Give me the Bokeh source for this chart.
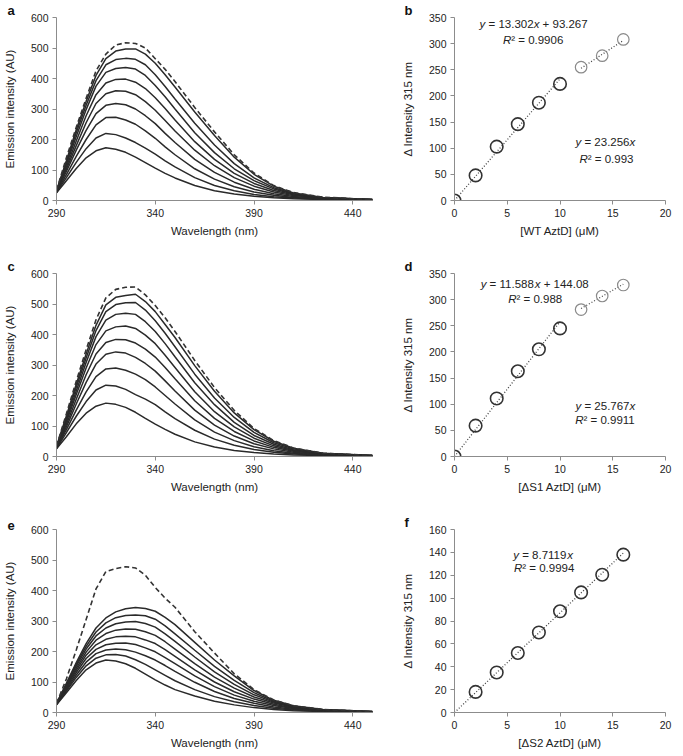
from bokeh.plotting import figure
from bokeh.models import Range1d, Label, FixedTicker
from bokeh.layouts import gridplot
from bokeh.embed import file_html
from bokeh.resources import INLINE

FONT = "Liberation Sans"

# emission spectra (wavelength in nm, intensity in AU)
wavelength = [290, 295, 300, 305, 310, 315, 320, 325, 330, 335, 340, 345, 350,
              360, 370, 380, 390, 400, 410, 425, 450]

spectra_a = [
    [25, 65, 105, 140, 163, 173, 168, 158, 142, 124, 106, 89, 74, 49, 32, 21, 14, 9, 6, 3, 1],
    [26, 75, 125, 170, 205, 220, 216, 205, 190, 172, 152, 130, 110, 75, 49, 32, 20, 12, 8, 4, 1],
    [27, 85, 145, 200, 248, 272, 273, 264, 250, 228, 204, 176, 150, 104, 70, 45, 28, 17, 10, 5, 2],
    [28, 95, 165, 230, 285, 312, 318, 314, 300, 278, 252, 220, 190, 135, 92, 60, 37, 22, 13, 6, 2],
    [29, 103, 180, 255, 318, 350, 360, 358, 347, 324, 296, 262, 228, 165, 114, 75, 47, 28, 16, 7, 2],
    [30, 110, 195, 278, 347, 385, 397, 398, 388, 367, 337, 302, 264, 193, 135, 89, 56, 33, 19, 8, 3],
    [31, 118, 210, 298, 375, 420, 433, 436, 431, 410, 377, 340, 300, 222, 157, 104, 65, 38, 21, 9, 3],
    [31, 124, 222, 312, 393, 445, 462, 466, 463, 445, 412, 374, 333, 253, 182, 121, 74, 42, 23, 9, 3],
    [32, 130, 232, 325, 410, 465, 490, 497, 497, 480, 450, 412, 372, 290, 213, 142, 86, 47, 25, 10, 3],
]
dashed_a = [33, 140, 240, 335, 425, 480, 510, 517, 515, 500, 465, 430, 390, 305, 225, 150, 90, 49, 26, 11, 3]

spectra_c = [
    [25, 65, 107, 142, 165, 175, 171, 161, 145, 125, 106, 89, 73, 48, 31, 20, 13, 8, 5, 3, 1],
    [26, 78, 132, 180, 218, 234, 231, 220, 203, 188, 170, 146, 124, 86, 57, 37, 23, 14, 8, 4, 1],
    [27, 88, 152, 212, 262, 287, 290, 283, 270, 252, 228, 200, 172, 120, 80, 52, 32, 19, 11, 5, 2],
    [28, 97, 172, 243, 303, 335, 343, 339, 325, 305, 280, 248, 215, 152, 103, 67, 42, 25, 14, 6, 2],
    [29, 105, 188, 268, 336, 374, 384, 383, 372, 352, 326, 292, 255, 183, 125, 82, 51, 30, 17, 7, 2],
    [30, 113, 203, 290, 367, 412, 425, 428, 420, 398, 370, 332, 292, 212, 147, 97, 60, 35, 20, 8, 3],
    [31, 120, 215, 308, 393, 447, 466, 470, 466, 442, 410, 370, 327, 242, 170, 112, 69, 40, 22, 9, 3],
    [32, 127, 227, 323, 413, 475, 498, 504, 505, 480, 445, 404, 360, 270, 192, 128, 79, 45, 25, 10, 3],
    [33, 133, 237, 336, 430, 497, 522, 528, 532, 508, 475, 433, 390, 298, 214, 143, 88, 50, 27, 11, 3],
]
dashed_c = [34, 140, 247, 350, 448, 520, 548, 555, 556, 530, 495, 455, 410, 315, 226, 151, 92, 52, 28, 11, 3]

spectra_e = [
    [25, 65, 105, 140, 162, 172, 169, 160, 145, 126, 107, 90, 75, 54, 37, 25, 16, 10, 6, 3, 1],
    [26, 70, 115, 153, 178, 189, 190, 185, 173, 158, 140, 122, 104, 75, 52, 35, 23, 14, 8, 4, 1],
    [27, 74, 123, 165, 193, 205, 208, 206, 198, 186, 172, 154, 135, 99, 69, 46, 30, 18, 11, 5, 2],
    [27, 78, 131, 177, 207, 222, 227, 228, 223, 212, 199, 180, 160, 120, 85, 57, 37, 23, 13, 6, 2],
    [28, 82, 138, 188, 222, 240, 248, 250, 248, 238, 226, 206, 184, 140, 100, 68, 44, 27, 15, 7, 2],
    [28, 86, 145, 198, 237, 259, 270, 274, 273, 265, 253, 232, 208, 160, 116, 80, 51, 31, 17, 8, 2],
    [29, 90, 152, 208, 251, 277, 291, 297, 298, 292, 280, 258, 233, 182, 133, 92, 58, 34, 19, 8, 3],
    [29, 93, 158, 217, 264, 294, 311, 318, 320, 317, 306, 284, 258, 204, 151, 105, 65, 37, 20, 9, 3],
    [30, 96, 164, 226, 277, 310, 330, 340, 344, 341, 332, 312, 288, 230, 172, 120, 72, 40, 22, 10, 3],
]
dashed_e = [30, 110, 205, 305, 405, 462, 472, 478, 474, 450, 410, 375, 345, 265, 195, 127, 75, 41, 22, 10, 3]

# titration data (delta intensity at 315 nm vs concentration)
conc = [0, 2, 4, 6, 8, 10, 12, 14, 16]
delta_b = [0, 48, 103, 146, 187, 223, 255, 277, 308]
delta_d = [0, 59, 111, 163, 205, 245, 281, 307, 328]
conc_f = [2, 4, 6, 8, 10, 12, 14, 16]
delta_f = [18, 35, 52, 70, 88.5, 105, 120.5, 138]

# linear fits printed on the panels: (slope, intercept)
fit_b_low, fit_b_high = (23.256, 0.0), (13.302, 93.267)
fit_d_low, fit_d_high = (25.767, 0.0), (11.588, 144.08)
fit_f = (8.7119, 0.0)

spec_xticks = [290, 340, 390, 440]
spec_yticks = [0, 100, 200, 300, 400, 500, 600]
conc_xticks = [0, 5, 10, 15, 20]
bd_yticks = [0, 50, 100, 150, 200, 250, 300, 350]
f_yticks = [0, 20, 40, 60, 80, 100, 120, 140, 160]

DARK = "#2a2a2a"
AXIS = "#8c8c8c"
TXT = "#222222"
FRAME_H = 183

CHAR_W = {" ": 278, ".": 278, "=": 584, "+": 584, "x": 500, "y": 500, "R": 722, "\u00b2": 333}


def text_w(s, size):
    return sum(CHAR_W.get(ch, 556) for ch in s) * size / 1000.0


def make_fig(left, frame_w, right, bottom, xr, yr, xticks, yticks, xlabel, ylabel,
             letter, letter_shift):
    p = figure(frame_width=frame_w, frame_height=FRAME_H, title=letter,
               x_range=Range1d(*xr), y_range=Range1d(*yr),
               output_backend="svg", toolbar_location=None,
               min_border_left=left, min_border_right=right,
               min_border_top=16, min_border_bottom=bottom)
    p.grid.visible = False
    p.outline_line_color = None
    # panel letter as a left-shifted title
    p.title.align = "left"
    p.title.offset = -letter_shift
    p.title.standoff = 0
    p.title.text_font = FONT
    p.title.text_font_size = "13px"
    p.title.text_font_style = "bold"
    p.title.text_color = "#111111"
    p.xaxis.ticker = FixedTicker(ticks=xticks)
    p.yaxis.ticker = FixedTicker(ticks=yticks)
    p.xaxis.axis_label = xlabel
    p.yaxis.axis_label = ylabel
    for ax in (p.xaxis[0], p.yaxis[0]):
        ax.axis_line_color = AXIS
        ax.major_tick_line_color = AXIS
        ax.minor_tick_line_color = None
        ax.major_tick_in = 0
        ax.major_tick_out = 4
        ax.major_label_standoff = 4
        ax.major_label_text_font = FONT
        ax.major_label_text_font_size = "10.5px"
        ax.major_label_text_color = TXT
        ax.axis_label_text_font = FONT
        ax.axis_label_text_font_size = "11.5px"
        ax.axis_label_text_font_style = "normal"
        ax.axis_label_text_color = TXT
    p.xaxis.axis_label_standoff = 5
    p.yaxis.axis_label_standoff = 12
    return p


def equation(p, x, y, runs, size=11.5):
    total = sum(text_w(t, size) for t, _ in runs)
    off = -total / 2.0
    for t, italic in runs:
        lead = len(t) - len(t.lstrip())
        p.add_layout(Label(x=x, y=y, x_offset=off + text_w(" " * lead, size),
                           text=t.strip(), text_align="left", text_baseline="middle",
                           text_font=FONT, text_font_size=f"{size}px",
                           text_font_style="italic" if italic else "normal",
                           text_color=TXT))
        off += text_w(t, size)


def spectra_panel(curves, dashed, letter, bottom):
    p = make_fig(50, 316, 12, bottom, (290, 450), (0, 600), spec_xticks, spec_yticks,
                 "Wavelength (nm)", "Emission intensity (AU)", letter, 49)
    for ys in curves:
        p.line(wavelength, ys, line_color=DARK, line_width=1.5)
    p.line(wavelength, dashed, line_color="#333333", line_width=1.6, line_dash="5 3")
    return p


def titration_panel(xs, ys, n_dark, fits, yr, yticks, xlabel, letter, bottom):
    p = make_fig(70, 211, 8, bottom, (0, 20), yr, conc_xticks, yticks, xlabel,
                 "\u0394 Intensity 315 nm", letter, 50)
    for (slope, icpt), (x0, x1) in fits:
        fx = [x0, x1]
        p.line(fx, [slope * v + icpt for v in fx], line_color="#444444",
               line_width=1.3, line_dash="1 2")
    p.scatter(xs[:n_dark], ys[:n_dark], marker="circle", size=12.5,
              fill_color=None, line_color="#333333", line_width=1.6)
    if n_dark < len(xs):
        p.scatter(xs[n_dark:], ys[n_dark:], marker="circle", size=11.5,
                  fill_color=None, line_color="#8a8a8a", line_width=1.2)
    return p


pa = spectra_panel(spectra_a, dashed_a, "a", 56)
pc = spectra_panel(spectra_c, dashed_c, "c", 56)
pe = spectra_panel(spectra_e, dashed_e, "e", 40)

pb = titration_panel(conc, delta_b, 6, [(fit_b_low, (0, 10)), (fit_b_high, (12, 16))],
                     (0, 350), bd_yticks, "[WT AztD] (\u03bcM)", "b", 56)
equation(pb, 7.5, 337, [("y", True), (" = 13.302", False), ("x", True), (" + 93.267", False)])
equation(pb, 7.45, 307, [("R", True), ("\u00b2 = 0.9906", False)])
equation(pb, 14.3, 112, [("y", True), (" = 23.256", False), ("x", True)])
equation(pb, 14.4, 80, [("R", True), ("\u00b2 = 0.993", False)])

pd_ = titration_panel(conc, delta_d, 6, [(fit_d_low, (0, 10)), (fit_d_high, (12, 16))],
                      (0, 350), bd_yticks, "[\u0394S1 AztD] (\u03bcM)", "d", 56)
equation(pd_, 7.6, 329, [("y", True), (" = 11.588", False), ("x", True), (" + 144.08", False)])
equation(pd_, 7.65, 301, [("R", True), ("\u00b2 = 0.988", False)])
equation(pd_, 14.3, 96, [("y", True), (" = 25.767", False), ("x", True)])
equation(pd_, 14.3, 70, [("R", True), ("\u00b2 = 0.9911", False)])

pf = titration_panel(conc_f, delta_f, len(conc_f), [(fit_f, (0, 16))],
                     (0, 160), f_yticks, "[\u0394S2 AztD] (\u03bcM)", "f", 40)
equation(pf, 8.4, 137.5, [("y", True), (" = 8.7119", False), ("x", True)])
equation(pf, 8.5, 126, [("R", True), ("\u00b2 = 0.9994", False)])

grid = gridplot([[pa, pb], [pc, pd_], [pe, pf]], toolbar_location=None)

open("out.html", "w").write(file_html(grid, INLINE))
